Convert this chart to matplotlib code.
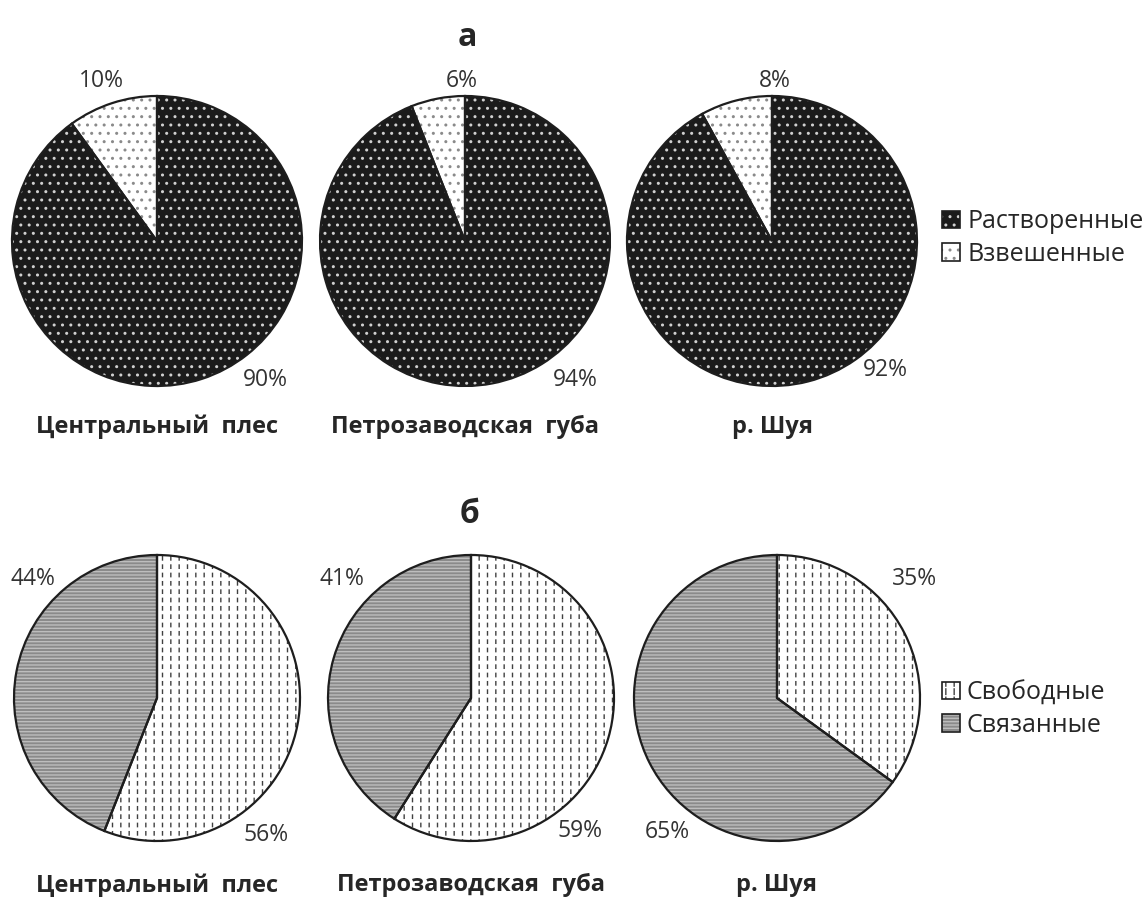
import numpy as np
import matplotlib.pyplot as plt
from matplotlib.patches import Patch

plt.rcParams['font.family'] = ['Open Sans', 'DejaVu Sans']
plt.rcParams['text.color'] = '#262626'

# data
sites = ['Центральный  плес', 'Петрозаводская  губа', 'р. Шуя']
dissolved = [90, 94, 92]
suspended = [10, 6, 8]
free = [56, 59, 35]
bound = [44, 41, 65]
legend_a = ['Растворенные', 'Взвешенные']
legend_b = ['Свободные', 'Связанные']

# layout (pixels of the 1146x897 canvas)
W, H = 1146, 897
top_cx, top_cy, top_r = [157, 465, 772], 241, 145
bot_cx, bot_cy, bot_r = [157, 471, 777], 698, 143
# label offsets in pie radii
top_lbl = [[(0.75, -0.96), (-0.38, 1.1)], [(0.76, -0.96), (-0.02, 1.1)], [(0.78, -0.89), (0.02, 1.1)]]
bot_lbl = [[(0.76, -0.96), (-0.87, 0.83)], [(0.76, -0.93), (-0.90, 0.83)], [(0.96, 0.83), (-0.77, -0.94)]]

fig = plt.figure(figsize=(11.46, 8.97), dpi=100)


def pie_axes(cx, cy, r, ext=1.45):
    half = r * ext
    ax = fig.add_axes([(cx - half) / W, 1 - (cy + half) / H, 2 * half / W, 2 * half / H])
    return ax, ext


def dash_breaker(p):
    # white horizontal hatch over vertical lines -> short vertical dashes
    p.set_facecolor('none')
    p.set_edgecolor('white')
    p.set_hatch('--')
    p.set_linewidth(0)
    if hasattr(p, 'set_hatch_linewidth'):
        p.set_hatch_linewidth(2.6)


def draw_pie(ax, ext, vals, faces, hatches, hcolors, breaks):
    wedges, _ = ax.pie(vals, startangle=90, counterclock=False, colors=faces,
                       wedgeprops=dict(linewidth=0))
    for w, h, hc in zip(wedges, hatches, hcolors):
        w.set_hatch(h)
        w.set_edgecolor(hc)
    over, _ = ax.pie(vals, startangle=90, counterclock=False, colors=['none'] * len(vals),
                     wedgeprops=dict(linewidth=0))
    for w, b in zip(over, breaks):
        if b:
            dash_breaker(w)
        else:
            w.set_visible(False)
    ax.pie(vals, startangle=90, counterclock=False, colors=['none'] * len(vals),
           wedgeprops=dict(edgecolor='#1e1e1e', linewidth=1.6))
    ax.set_xlim(-ext, ext)
    ax.set_ylim(-ext, ext)
    ax.set_aspect('equal')
    ax.axis('off')


# --- row a
for i in range(3):
    ax, ext = pie_axes(top_cx[i], top_cy, top_r)
    vals = [dissolved[i], suspended[i]]
    draw_pie(ax, ext, vals, ['#1b1b1b', 'white'], ['..', '..'], ['#d0d0d0', '#8a8a8a'],
             [False, False])
    for v, (x, y) in zip(vals, top_lbl[i]):
        ax.text(x, y, f'{v}%', ha='center', va='center', fontsize=16.5, color='#333333')
    ax.text(0, -1.28, sites[i], ha='center', va='center', fontsize=17, fontweight='bold')

# --- row b
for i in range(3):
    ax, ext = pie_axes(bot_cx[i], bot_cy, bot_r)
    vals = [free[i], bound[i]]
    draw_pie(ax, ext, vals, ['white', '#8a8a8a'], ['||', '-----'], ['#404040', '#bdbdbd'],
             [True, False])
    for v, (x, y) in zip(vals, bot_lbl[i]):
        ax.text(x, y, f'{v}%', ha='center', va='center', fontsize=16.5, color='#333333')
    ax.text(0, -1.31, sites[i], ha='center', va='center', fontsize=17, fontweight='bold')

fig.text(467 / W, 1 - 38 / H, 'а', ha='center', va='center', fontsize=23, fontweight='bold')
fig.text(470 / W, 1 - 514 / H, 'б', ha='center', va='center', fontsize=23, fontweight='bold')

# legends
def hpatch(face, hatch, hc, brk=False):
    parts = [Patch(facecolor=face, edgecolor=hc, hatch=hatch, linewidth=0)]
    if brk:
        p = Patch()
        dash_breaker(p)
        parts.append(p)
    parts.append(Patch(facecolor='none', edgecolor='#1e1e1e', linewidth=1.2))
    return tuple(parts)

la = [hpatch('#1b1b1b', '..', '#d0d0d0'), hpatch('white', '..', '#8a8a8a')]
fig.legend(la, legend_a, loc='center left', bbox_to_anchor=(942 / W, 1 - 238 / H),
           frameon=False, fontsize=18, handlelength=0.7, handleheight=0.7,
           handletextpad=0.3, labelspacing=0.3, borderaxespad=0, borderpad=0)
lb = [hpatch('white', '||', '#404040', True), hpatch('#8a8a8a', '-----', '#bdbdbd')]
fig.legend(lb, legend_b, loc='center left', bbox_to_anchor=(942 / W, 1 - 709 / H),
           frameon=False, fontsize=18, handlelength=0.7, handleheight=0.7,
           handletextpad=0.3, labelspacing=0.3, borderaxespad=0, borderpad=0)

fig.savefig('out.png', dpi=100, facecolor='white')
